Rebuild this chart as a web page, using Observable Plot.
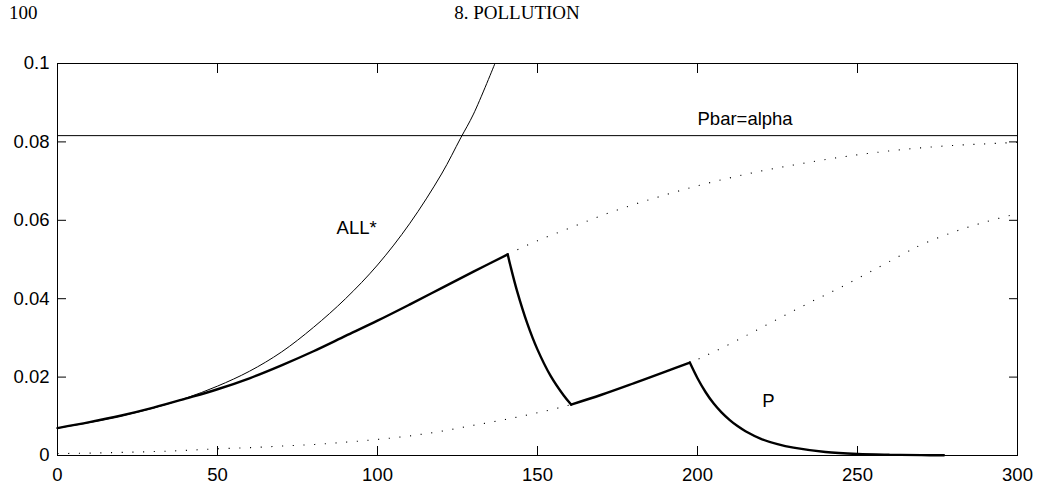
<!DOCTYPE html>
<html><head><meta charset="utf-8">
<script src="https://cdn.jsdelivr.net/npm/d3@7"></script>
<script src="https://cdn.jsdelivr.net/npm/@observablehq/plot@0.6"></script>
<style>
html,body{margin:0;padding:0;background:#fff;}
#page{position:relative;width:1037px;height:488px;overflow:hidden;background:#fff;}
#header{position:relative;height:30px;font-family:"Liberation Serif","Times New Roman",serif;font-size:19px;color:#000;}
#header span{position:absolute;top:3px;line-height:19px;white-space:nowrap;}
#pg{left:9px;}
#ch{left:517px;transform:translateX(-50%);}
</style></head><body>
<div id="page"><div id="header"><span id="pg"></span><span id="ch"></span></div><div id="chart"></div></div>
<script>
// header texts
const pageNumber = "100";
const chapterTitle = "8. POLLUTION";

// ticks
const xTicks = [0, 50, 100, 150, 200, 250, 300];
const xTickLabels = ["0", "50", "100", "150", "200", "250", "300"];
const yTicks = [0, 0.02, 0.04, 0.06, 0.08, 0.1];
const yTickLabels = ["0", "0.02", "0.04", "0.06", "0.08", "0.1"];

// ALL* (thin solid)
const allStarX = [0, 10, 20, 30, 40, 50, 60, 70, 80, 90, 100, 110, 120, 126, 130, 136.7];
const allStarY = [0.0070, 0.0084, 0.0101, 0.0121, 0.0146, 0.0177, 0.0215, 0.0264, 0.0327, 0.0400, 0.0486, 0.0591, 0.0718, 0.0810, 0.0871, 0.1000];

// P (thick solid); kinks where the regime switches
const pX = [0, 10, 20, 30, 40, 50, 60, 70, 80, 90, 100, 110, 120, 130, 140.7,
            141.6, 143.6, 146.8, 149.9, 154.1, 158.2, 160.5,
            170, 180, 190, 197.6,
            200, 202.5, 205, 207.5, 210, 212.5, 215, 220, 225, 230, 240, 250, 260, 270, 277];
const pY = [0.0070, 0.0085, 0.0102, 0.0122, 0.0145, 0.0169, 0.0197, 0.0230, 0.0266, 0.0305, 0.0344, 0.0385, 0.0427, 0.0469, 0.0513,
            0.0482, 0.0420, 0.0337, 0.0272, 0.0203, 0.0153, 0.0130,
            0.0155, 0.0184, 0.0214, 0.0237,
            0.0197, 0.0162, 0.0133, 0.0110, 0.0091, 0.0075, 0.0062, 0.0042, 0.0029, 0.0020, 0.0009, 0.0004, 0.0002, 0.0001, 0.00005];
const pKinks = [140.7, 160.5, 197.6];

// upper dotted path
const upperX = [140.7, 150, 160, 170, 180, 190, 200, 210, 220, 230, 240, 250, 260, 270, 280, 290, 300];
const upperY = [0.0513, 0.0548, 0.0580, 0.0612, 0.0640, 0.0665, 0.0688, 0.0708, 0.0726, 0.0741, 0.0755, 0.0767, 0.0777, 0.0785, 0.0791, 0.0795, 0.0799];

// lower dotted path
const lowerX = [0, 10, 20, 30, 40, 50, 60, 70, 80, 90, 100, 110, 120, 130, 140, 150, 160.5, 170, 180, 190, 197.6, 205, 215, 225, 235, 245, 255, 265, 270, 280, 290, 300];
const lowerY = [0.0005, 0.0006, 0.0008, 0.0010, 0.0013, 0.0017, 0.0020, 0.0024, 0.0028, 0.0034, 0.0041, 0.0050, 0.0062, 0.0077, 0.0092, 0.0109, 0.0130, 0.0155, 0.0184, 0.0214, 0.0237, 0.0264, 0.0305, 0.0348, 0.0390, 0.0430, 0.0473, 0.0517, 0.0538, 0.0570, 0.0596, 0.0617];

// horizontal level
const pbarAlpha = 0.0816;

// annotations
const noteText = ["Pbar=alpha", "ALL*", "P"];
const noteX = [200, 87.2, 220.2];
const noteY = [0.0859, 0.0581, 0.0140];

document.getElementById("pg").textContent = pageNumber;
document.getElementById("ch").textContent = chapterTitle;

const zip = (xs, ys) => xs.map((x, i) => ({x, y: ys[i]}));
// split P into smooth pieces at its kinks (kink points shared by adjacent pieces)
const pRows = [];
let seg = 0;
pX.forEach((x, i) => {
  pRows.push({x, y: pY[i], s: seg});
  if (pKinks.includes(x)) { seg++; pRows.push({x, y: pY[i], s: seg}); }
});
const notes = noteText.map((t, i) => ({t, x: noteX[i], y: noteY[i]}));
const xLab = new Map(xTicks.map((v, i) => [v, xTickLabels[i]]));
const yLab = new Map(yTicks.map((v, i) => [v, yTickLabels[i]]));

const dotted = {x: "x", y: "y", stroke: "#000", strokeWidth: 1.1, strokeDasharray: "1.1,9.6", strokeLinecap: "butt", curve: "catmull-rom"};

const chart = Plot.plot({
  width: 1037, height: 458,
  marginLeft: 57, marginRight: 20, marginTop: 33, marginBottom: 33,
  x: {domain: [0, 300]},
  y: {domain: [0, 0.1]},
  style: {fontFamily: "'Liberation Sans', Arial, Helvetica, sans-serif", fontSize: "18.5px", color: "#000", background: "#fff", overflow: "visible"},
  marks: [
    Plot.line(zip(lowerX, lowerY), dotted),
    Plot.line(zip(upperX, upperY), dotted),
    Plot.ruleY([pbarAlpha], {stroke: "#000", strokeWidth: 1}),
    Plot.line(zip(allStarX, allStarY), {x: "x", y: "y", stroke: "#000", strokeWidth: 1, curve: "catmull-rom"}),
    Plot.line(pRows, {x: "x", y: "y", z: "s", stroke: "#000", strokeWidth: 2.4, strokeLinejoin: "miter", curve: "catmull-rom"}),
    Plot.text(notes, {x: "x", y: "y", text: "t", textAnchor: "start", fontSize: 18.5, fill: "#000"}),
    Plot.frame({stroke: "#000", strokeWidth: 1}),
    Plot.axisX({ticks: xTicks, tickSize: -9, tickPadding: 21, tickFormat: d => xLab.get(d), label: null}),
    Plot.axisX({anchor: "top", ticks: xTicks, tickSize: -9, tickFormat: () => "", label: null}),
    Plot.axisY({ticks: yTicks, tickSize: -9, tickPadding: 17, tickFormat: d => yLab.get(d), label: null}),
    Plot.axisY({anchor: "right", ticks: yTicks, tickSize: -9, tickFormat: () => "", label: null})
  ]
});
document.getElementById("chart").appendChild(chart);
</script>
</body></html>
